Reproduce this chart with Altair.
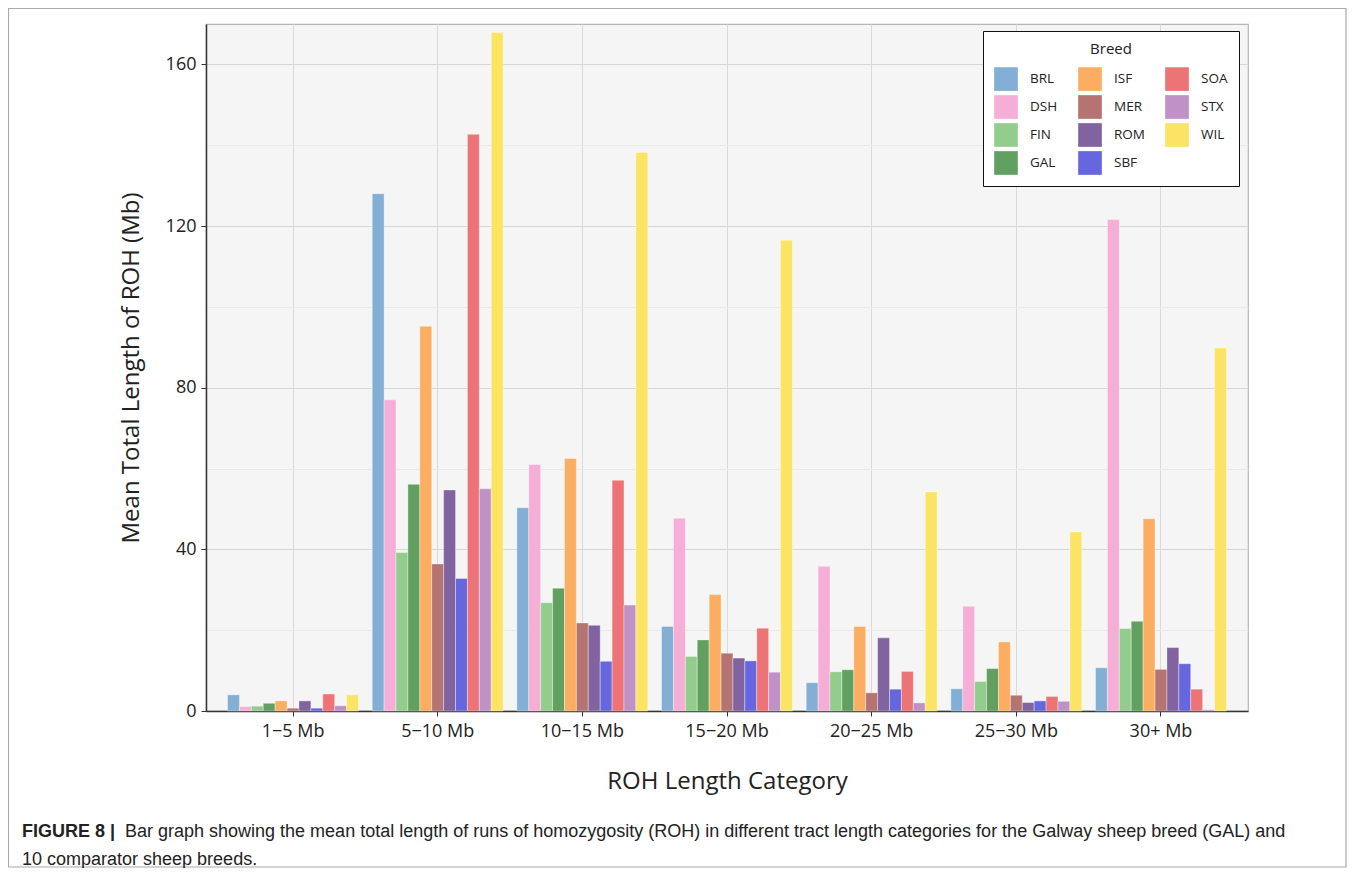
import altair as alt
import pandas as pd

categories = ["1\u22125 Mb", "5\u221210 Mb", "10\u221215 Mb", "15\u221220 Mb", "20\u221225 Mb", "25\u221230 Mb", "30+ Mb"]
breeds = ["BRL", "DSH", "FIN", "GAL", "ISF", "MER", "ROM", "SBF", "SOA", "STX", "WIL"]

BRL = [4.0, 128.0, 50.3, 20.9, 7.0, 5.5, 10.7]
DSH = [1.1, 77.0, 61.0, 47.7, 35.8, 25.9, 121.6]
FIN = [1.2, 39.2, 26.8, 13.5, 9.7, 7.3, 20.4]
GAL = [1.9, 56.1, 30.4, 17.6, 10.2, 10.5, 22.2]
ISF = [2.5, 95.2, 62.5, 28.8, 20.9, 17.1, 47.6]
MER = [0.7, 36.4, 21.8, 14.3, 4.5, 3.9, 10.3]
ROM = [2.5, 54.7, 21.2, 13.1, 18.1, 2.1, 15.7]
SBF = [0.7, 32.8, 12.3, 12.4, 5.4, 2.5, 11.7]
SOA = [4.2, 142.7, 57.1, 20.5, 9.8, 3.6, 5.4]
STX = [1.3, 55.0, 26.2, 9.6, 2.0, 2.4, 0.3]
WIL = [4.0, 167.9, 138.2, 116.5, 54.2, 44.3, 89.8]

colors = {
    "BRL": "#83afd4", "DSH": "#f5afd6", "FIN": "#93cd8d", "GAL": "#62a062",
    "ISF": "#fbae62", "MER": "#b57372", "ROM": "#8163a0", "SBF": "#6666de",
    "SOA": "#ec7376", "STX": "#bf91c7", "WIL": "#fbe364",
}

caption_bold = "FIGURE 8 |"
caption_line1 = "Bar graph showing the mean total length of runs of homozygosity (ROH) in different tract length categories for the Galway sheep breed (GAL) and"
caption_line2 = "10 comparator sheep breeds."

series = {"BRL": BRL, "DSH": DSH, "FIN": FIN, "GAL": GAL, "ISF": ISF, "MER": MER,
          "ROM": ROM, "SBF": SBF, "SOA": SOA, "STX": STX, "WIL": WIL}
rows = []
for b in breeds:
    for c, v in zip(categories, series[b]):
        rows.append({"cat": c, "breed": b, "value": v})
df = pd.DataFrame(rows)

W, H = 1042, 687
PL, PT = 198, 16
PR = 1339 - PL - W
PB = 860 - PT - H

label_font = "Open Sans"

bars = alt.Chart(df).mark_bar(stroke="white", strokeWidth=0.8, strokeOpacity=0.45).encode(
    x=alt.X("cat:N", sort=categories,
            scale=alt.Scale(paddingInner=0.095, paddingOuter=0.149),
            axis=alt.Axis(title="ROH Length Category", labelAngle=0, grid=True,
                          gridColor="#d9d9d9", tickSize=5, labelPadding=6,
                          titlePadding=29, labelFontSize=18, titleFontSize=24,
                          domainColor="#333333", domainWidth=1.5, tickColor="#333333")),
    xOffset=alt.XOffset("breed:N", sort=breeds, scale=alt.Scale(paddingInner=0, paddingOuter=0)),
    y=alt.Y("value:Q", scale=alt.Scale(domain=[0, 170], nice=False),
            axis=alt.Axis(title="Mean Total Length of ROH (Mb)",
                          values=[0, 20, 40, 60, 80, 100, 120, 140, 160],
                          labelExpr="datum.value % 40 === 0 ? datum.label : ''",
                          gridColor={"condition": {"test": "datum.value % 40 === 0", "value": "#d6d6d6"}, "value": "#e9e9e9"},
                          tickColor={"condition": {"test": "datum.value % 40 === 0", "value": "#333333"}, "value": "transparent"},
                          tickSize=5, labelPadding=5, titlePadding=22,
                          labelFontSize=18, titleFontSize=24,
                          domainColor="#333333", domainWidth=1.5)),
    color=alt.Color("breed:N",
                    scale=alt.Scale(domain=breeds, range=[colors[b] for b in breeds]),
                    legend=alt.Legend(title="Breed", orient="none", legendX=777, legendY=7,
                                      columns=3, symbolType="square", symbolSize=560,
                                      symbolStrokeWidth=0, labelFontSize=13.5, labelFont=label_font,
                                      titleFontSize=15, titleFont=label_font, titleFontWeight="normal",
                                      titleAnchor="middle", titlePadding=10, labelOffset=12,
                                      columnPadding=20, rowPadding=4, padding=11,
                                      fillColor="white", strokeColor="#111111",
                                      labelColor="#222222", titleColor="#222222")),
)

frame_df = pd.DataFrame({"k": [1]})
frame = alt.Chart(frame_df).mark_rect(fill="transparent", stroke="#aaaaaa", strokeWidth=1.2).encode(
    x=alt.value(-PL + 0.5), x2=alt.value(W + PR - 1),
    y=alt.value(-PT + 0.5), y2=alt.value(H + PB - 1),
)

cap_df = pd.DataFrame({"t": [caption_bold]})
cap_bold = alt.Chart(cap_df).mark_text(align="left", baseline="middle", font="Liberation Sans",
                                        fontSize=18, fontWeight="bold", color="#222222").encode(
    x=alt.value(-184), y=alt.value(808), text="t:N")
cap1_df = pd.DataFrame({"t": [caption_line1]})
cap1 = alt.Chart(cap1_df).mark_text(align="left", baseline="middle", font="Liberation Sans",
                                     fontSize=18, color="#222222").encode(
    x=alt.value(-81), y=alt.value(808), text="t:N")
cap2_df = pd.DataFrame({"t": [caption_line2]})
cap2 = alt.Chart(cap2_df).mark_text(align="left", baseline="middle", font="Liberation Sans",
                                     fontSize=18, color="#222222").encode(
    x=alt.value(-184), y=alt.value(836), text="t:N")

chart = alt.layer(frame, bars, cap_bold, cap1, cap2).properties(
    width=W, height=H,
    autosize=alt.AutoSizeParams(type="none"),
    padding={"left": PL, "top": PT, "right": PR, "bottom": PB},
).configure_view(
    fill="#f5f5f5", stroke="#b5b5b5", strokeWidth=1.2
).configure_axis(
    labelFont=label_font, titleFont=label_font, labelColor="#222222", titleColor="#222222",
    titleFontWeight="normal"
)

chart.save("out.html", embed_options={"renderer": "svg", "actions": False})
